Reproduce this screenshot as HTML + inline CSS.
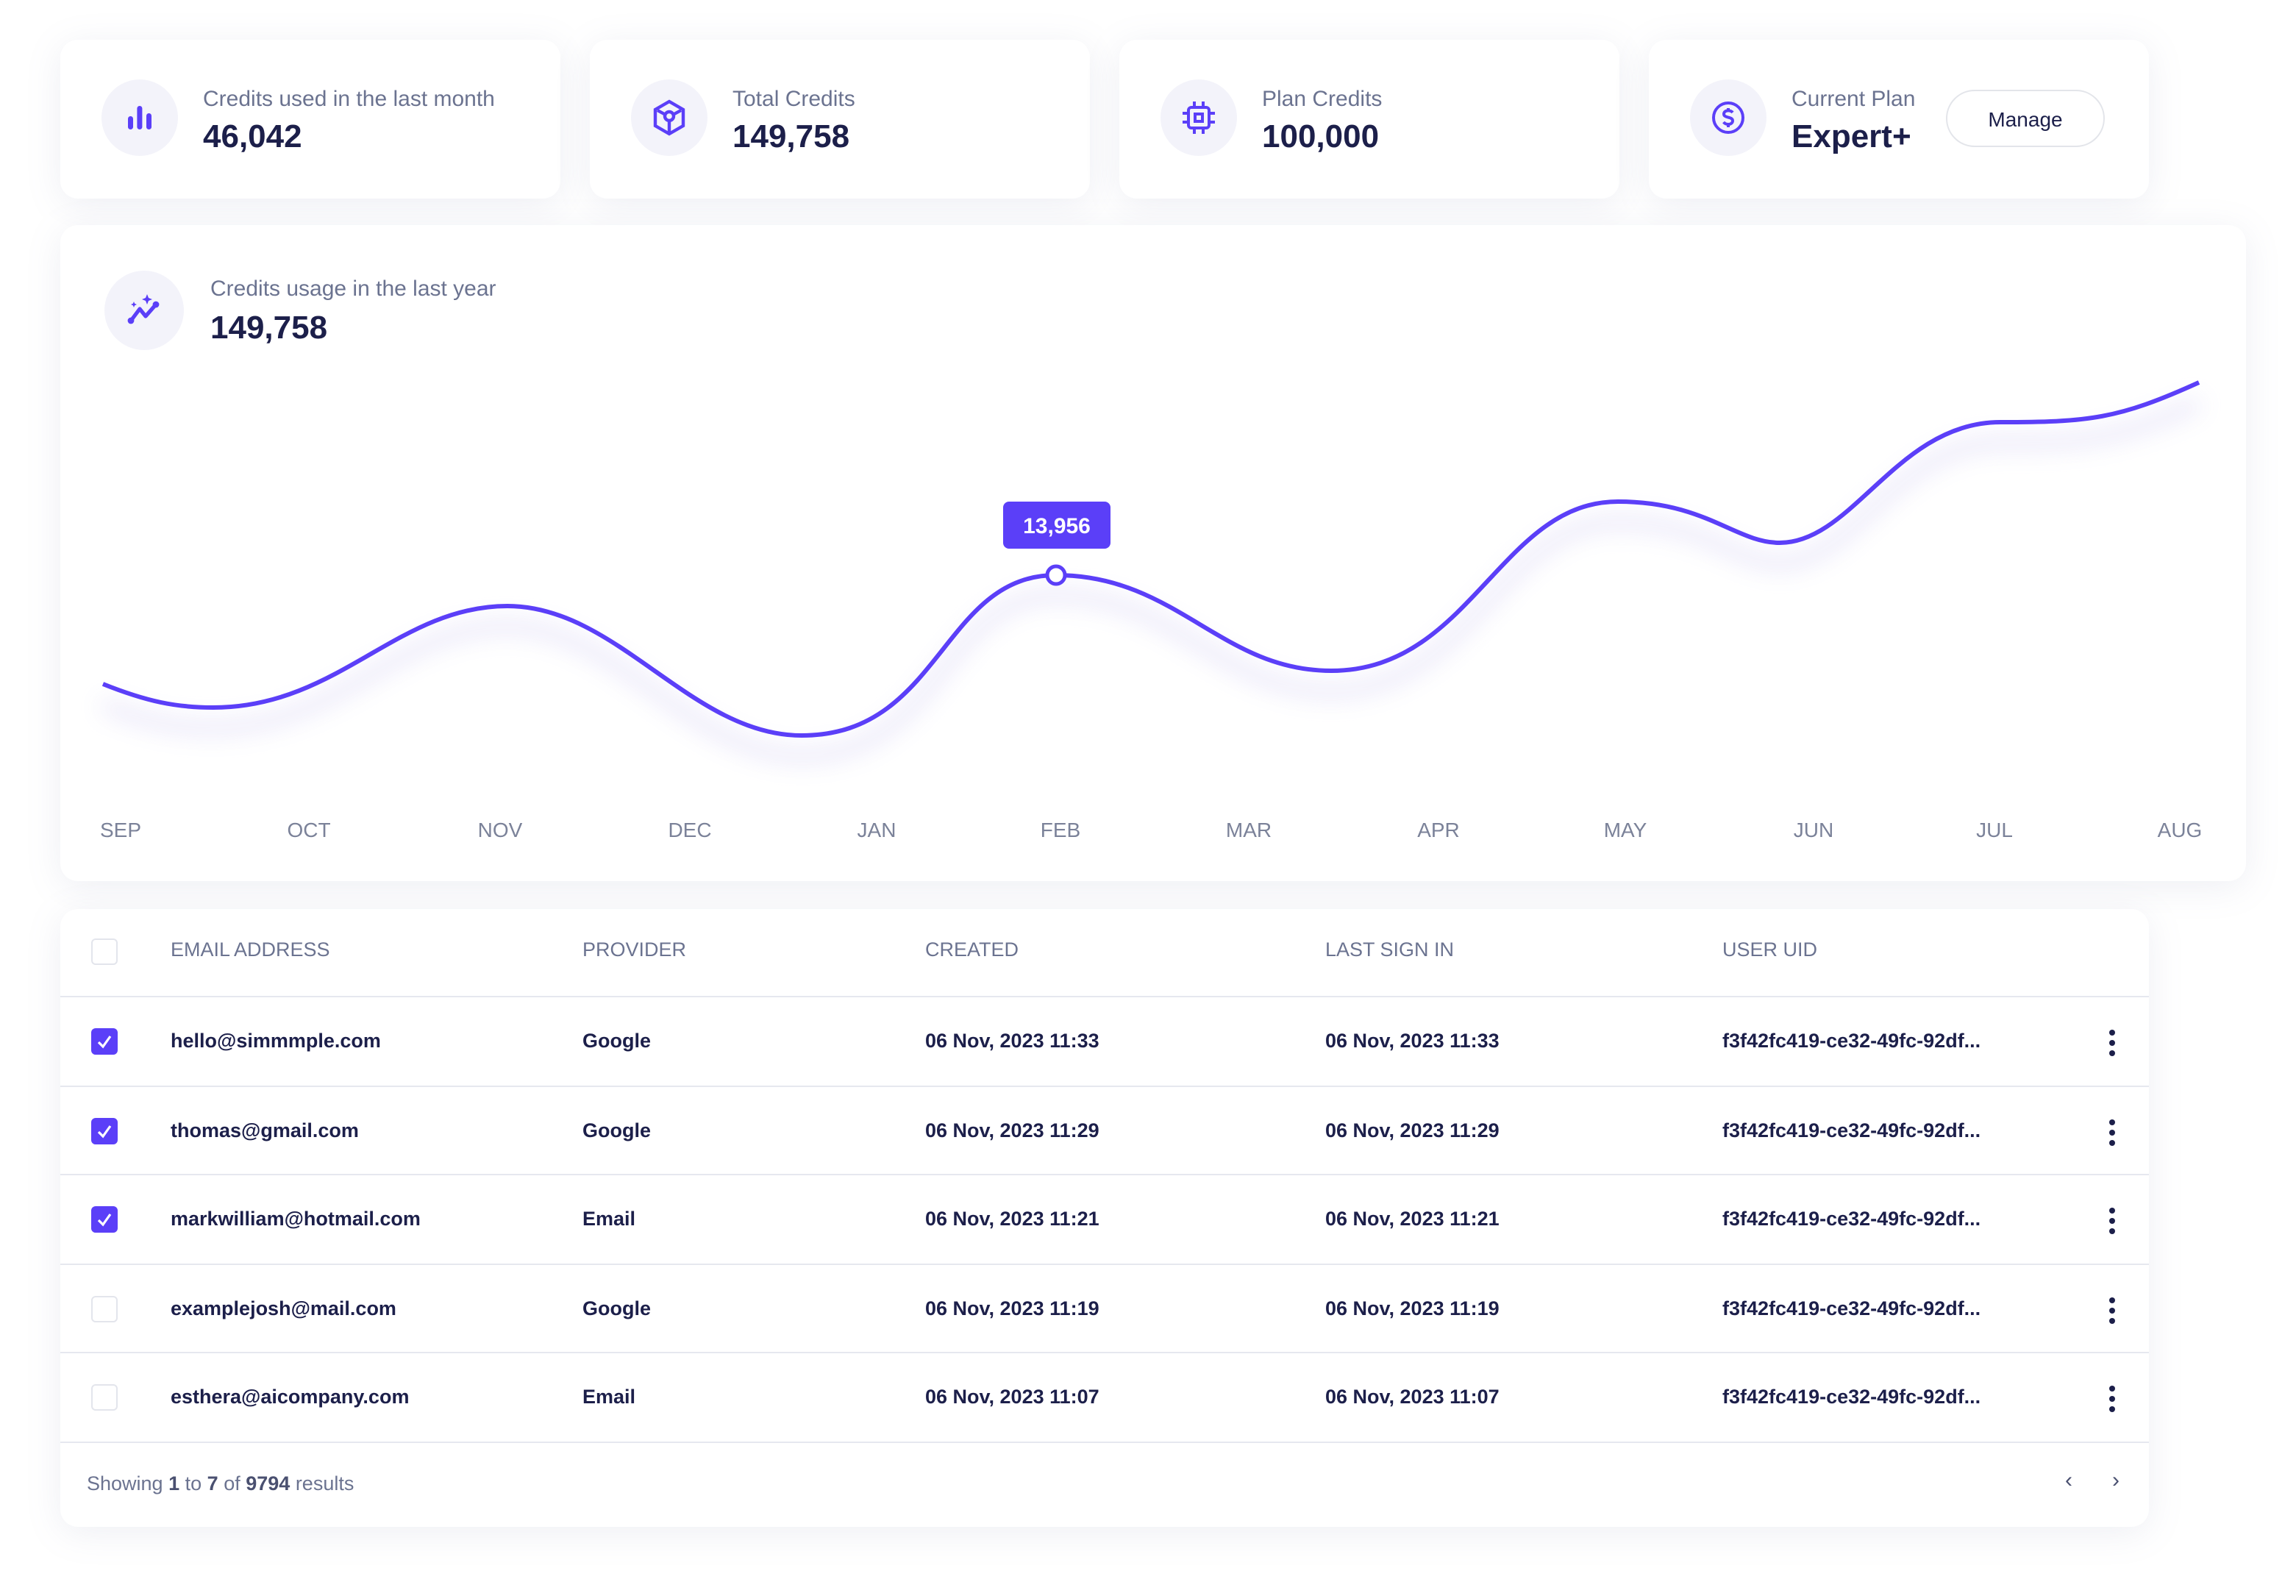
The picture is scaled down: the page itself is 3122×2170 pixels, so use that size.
<!DOCTYPE html>
<html><head><meta charset="utf-8"><style>
*{margin:0;padding:0;box-sizing:border-box}
html,body{width:3122px;height:2170px;overflow:hidden;background:#fff;font-family:"Liberation Sans",sans-serif}
#w{position:absolute;left:0;top:0;width:1561px;height:1085px;transform:scale(2);transform-origin:0 0}
.card{position:absolute;background:#fff;border-radius:12px;box-shadow:0 4px 24px rgba(120,135,170,0.13)}
.ic{position:absolute;border-radius:50%;background:#f3f3fa;display:flex;align-items:center;justify-content:center}
.lab{position:absolute;font-size:15px;color:#6b7390}
.val{position:absolute;font-size:22px;font-weight:bold;color:#1c1f4a}
.t{position:absolute;font-size:13.5px;font-weight:bold;color:#1c1f4a;white-space:nowrap}
.h{position:absolute;font-size:13.5px;color:#6b7390;white-space:nowrap}
.cb{position:absolute;left:21px;width:18px;height:18px;border-radius:3px}
.on{background:#5b3ff8}
.off{border:1.5px solid #e3e5ec;background:#fff}
.line{position:absolute;left:0;right:0;height:1px;background:#e6e8ef}
.m{position:absolute;top:556px;font-size:14px;color:#7b8299;transform:translateX(-50%)}
.dots{position:absolute;left:1393px;width:4px}
.dots i{display:block;width:4px;height:4px;border-radius:50%;background:#1c1f4a;margin-bottom:3px}
</style></head><body><div id="w">

<div class="card" style="left:41px;top:27px;width:340px;height:108px">
 <div class="ic" style="left:28px;top:27px;width:52px;height:52px"><svg width="20" height="20"><rect x="2" y="9" width="3.5" height="9" rx="1.7" fill="#5b3ff8"/><rect x="8.2" y="2" width="3.5" height="16" rx="1.7" fill="#5b3ff8"/><rect x="14.5" y="7" width="3.5" height="11" rx="1.7" fill="#5b3ff8"/></svg></div>
 <div class="lab" style="left:97px;top:32px">Credits used in the last month</div>
 <div class="val" style="left:97px;top:53px">46,042</div>
</div>
<div class="card" style="left:401px;top:27px;width:340px;height:108px">
 <div class="ic" style="left:28px;top:27px;width:52px;height:52px"><svg width="26" height="26" viewBox="0 0 26 26" fill="none" stroke="#5b3ff8" stroke-width="2.2"><path d="M13 2 L22.5 7.5 L22.5 18.5 L13 24 L3.5 18.5 L3.5 7.5 Z"/><circle cx="13" cy="12" r="3"/><path d="M13 15 V24 M5 8 L10.5 11 M21 8 L15.5 11"/></svg></div>
 <div class="lab" style="left:97px;top:32px">Total Credits</div>
 <div class="val" style="left:97px;top:53px">149,758</div>
</div>
<div class="card" style="left:761px;top:27px;width:340px;height:108px">
 <div class="ic" style="left:28px;top:27px;width:52px;height:52px"><svg width="26" height="26" viewBox="0 0 26 26" fill="none" stroke="#5b3ff8" stroke-width="2"><rect x="6" y="6" width="14" height="14" rx="2"/><rect x="10.5" y="10.5" width="5" height="5"/><path d="M10 2v4M16 2v4M10 20v4M16 20v4M2 10h4M2 16h4M20 10h4M20 16h4"/></svg></div>
 <div class="lab" style="left:97px;top:32px">Plan Credits</div>
 <div class="val" style="left:97px;top:53px">100,000</div>
</div>
<div class="card" style="left:1121px;top:27px;width:340px;height:108px">
 <div class="ic" style="left:28px;top:27px;width:52px;height:52px"><svg width="26" height="26" viewBox="0 0 26 26" fill="none" stroke="#5b3ff8" stroke-width="2"><circle cx="13" cy="13" r="10"/><path d="M16 9.5c-.8-1-1.8-1.3-3-1.3-1.7 0-3 .9-3 2.3 0 3 6 1.5 6 4.6 0 1.4-1.3 2.4-3 2.4-1.3 0-2.4-.5-3.2-1.5M13 6.5v2M13 17.5v2"/></svg></div>
 <div class="lab" style="left:97px;top:32px">Current Plan</div>
 <div class="val" style="left:97px;top:53px">Expert+</div>
 <div style="position:absolute;left:202px;top:34px;width:108px;height:39px;border:1.5px solid #e3e5ea;border-radius:20px;font-size:14px;color:#1c1f4a;display:flex;align-items:center;justify-content:center">Manage</div>
</div>

<div class="card" style="left:41px;top:153px;width:1486px;height:446px">
 <div class="ic" style="left:30px;top:31px;width:54px;height:54px"><svg width="28" height="28" viewBox="0 0 28 28"><path d="M5 21 L11 13 L15 18 L22 10" fill="none" stroke="#5b3ff8" stroke-width="2.6" stroke-linecap="round" stroke-linejoin="round"/><circle cx="5" cy="21" r="2.2" fill="#5b3ff8"/><circle cx="22" cy="10" r="2.2" fill="#5b3ff8"/><path d="M16 3 l1 2.5 2.5 1 -2.5 1 -1 2.5 -1 -2.5 -2.5 -1 2.5 -1z M7 8 l.6 1.4 1.4.6 -1.4.6 -.6 1.4 -.6 -1.4 -1.4 -.6 1.4 -.6z" fill="#5b3ff8"/></svg></div>
 <div class="lab" style="left:102px;top:35px">Credits usage in the last year</div>
 <div class="val" style="left:102px;top:57px">149,758</div>
</div>
<svg style="position:absolute;left:0;top:0" width="1561" height="620">
 <defs><filter id="b" x="-10%" y="-50%" width="120%" height="200%"><feGaussianBlur stdDeviation="8"/></filter></defs>
 <path d="M70,465 C100,477 120,481 145,481 C230,481 270,412 345,412 C420,412 470,500 545,500 C640,500 640,391 718,391 C800,391 830,456 905,456 C1000,456 1020,341 1100,341 C1160,341 1180,369 1210,369 C1260,369 1290,287 1360,287 C1420,287 1440,285 1495,260" fill="none" stroke="#c9c3f0" stroke-width="8" opacity="0.45" filter="url(#b)" transform="translate(0,14)"/>
 <path d="M70,465 C100,477 120,481 145,481 C230,481 270,412 345,412 C420,412 470,500 545,500 C640,500 640,391 718,391 C800,391 830,456 905,456 C1000,456 1020,341 1100,341 C1160,341 1180,369 1210,369 C1260,369 1290,287 1360,287 C1420,287 1440,285 1495,260" fill="none" stroke="#5b3ff8" stroke-width="3"/>
 <circle cx="718" cy="391" r="6" fill="#fff" stroke="#5b3ff8" stroke-width="2.5"/>
 <rect x="682" y="341" width="73" height="32" rx="4" fill="#5b3ff8"/>
 <text x="718.5" y="362.5" text-anchor="middle" font-family="Liberation Sans" font-size="15" font-weight="bold" fill="#fff">13,956</text>
</svg>
<div class="m" style="left:82px">SEP</div><div class="m" style="left:210px">OCT</div><div class="m" style="left:340px">NOV</div><div class="m" style="left:469px">DEC</div><div class="m" style="left:596px">JAN</div><div class="m" style="left:721px">FEB</div><div class="m" style="left:849px">MAR</div><div class="m" style="left:978px">APR</div><div class="m" style="left:1105px">MAY</div><div class="m" style="left:1233px">JUN</div><div class="m" style="left:1356px">JUL</div><div class="m" style="left:1482px">AUG</div>

<div class="card" style="left:41px;top:618px;width:1420px;height:420px">
 <div class="cb off" style="top:20px"></div>
 <div class="h" style="left:75px;top:20px">EMAIL ADDRESS</div>
 <div class="h" style="left:355px;top:20px">PROVIDER</div>
 <div class="h" style="left:588px;top:20px">CREATED</div>
 <div class="h" style="left:860px;top:20px">LAST SIGN IN</div>
 <div class="h" style="left:1130px;top:20px">USER UID</div>
 <div class="line" style="top:59px"></div>
 <div class="line" style="top:120px"></div>
 <div class="line" style="top:180px"></div>
 <div class="line" style="top:241px"></div>
 <div class="line" style="top:301px"></div>
 <div class="line" style="top:362px"></div>

 <div class="cb on" style="top:81px"><svg width="18" height="18"><path d="M5 9.5 L8 12.5 L13 5.5" fill="none" stroke="#fff" stroke-width="1.6"/></svg></div>
 <div class="t" style="left:75px;top:82px">hello@simmmple.com</div><div class="t" style="left:355px;top:82px">Google</div><div class="t" style="left:588px;top:82px">06 Nov, 2023 11:33</div><div class="t" style="left:860px;top:82px">06 Nov, 2023 11:33</div><div class="t" style="left:1130px;top:82px">f3f42fc419-ce32-49fc-92df...</div>
 <div class="dots" style="top:82px"><i></i><i></i><i></i></div>

 <div class="cb on" style="top:142px"><svg width="18" height="18"><path d="M5 9.5 L8 12.5 L13 5.5" fill="none" stroke="#fff" stroke-width="1.6"/></svg></div>
 <div class="t" style="left:75px;top:143px">thomas@gmail.com</div><div class="t" style="left:355px;top:143px">Google</div><div class="t" style="left:588px;top:143px">06 Nov, 2023 11:29</div><div class="t" style="left:860px;top:143px">06 Nov, 2023 11:29</div><div class="t" style="left:1130px;top:143px">f3f42fc419-ce32-49fc-92df...</div>
 <div class="dots" style="top:143px"><i></i><i></i><i></i></div>

 <div class="cb on" style="top:202px"><svg width="18" height="18"><path d="M5 9.5 L8 12.5 L13 5.5" fill="none" stroke="#fff" stroke-width="1.6"/></svg></div>
 <div class="t" style="left:75px;top:203px">markwilliam@hotmail.com</div><div class="t" style="left:355px;top:203px">Email</div><div class="t" style="left:588px;top:203px">06 Nov, 2023 11:21</div><div class="t" style="left:860px;top:203px">06 Nov, 2023 11:21</div><div class="t" style="left:1130px;top:203px">f3f42fc419-ce32-49fc-92df...</div>
 <div class="dots" style="top:203px"><i></i><i></i><i></i></div>

 <div class="cb off" style="top:263px"></div>
 <div class="t" style="left:75px;top:264px">examplejosh@mail.com</div><div class="t" style="left:355px;top:264px">Google</div><div class="t" style="left:588px;top:264px">06 Nov, 2023 11:19</div><div class="t" style="left:860px;top:264px">06 Nov, 2023 11:19</div><div class="t" style="left:1130px;top:264px">f3f42fc419-ce32-49fc-92df...</div>
 <div class="dots" style="top:264px"><i></i><i></i><i></i></div>

 <div class="cb off" style="top:323px"></div>
 <div class="t" style="left:75px;top:324px">esthera@aicompany.com</div><div class="t" style="left:355px;top:324px">Email</div><div class="t" style="left:588px;top:324px">06 Nov, 2023 11:07</div><div class="t" style="left:860px;top:324px">06 Nov, 2023 11:07</div><div class="t" style="left:1130px;top:324px">f3f42fc419-ce32-49fc-92df...</div>
 <div class="dots" style="top:324px"><i></i><i></i><i></i></div>

 <div class="h" style="left:18px;top:383px">Showing <b style="color:#4a5070">1</b> to <b style="color:#4a5070">7</b> of <b style="color:#4a5070">9794</b> results</div>
 <div class="h" style="left:1363px;top:380px;font-size:15px;color:#4a5070">‹</div>
 <div class="h" style="left:1395px;top:380px;font-size:15px;color:#4a5070">›</div>
</div>
</div></body></html>
